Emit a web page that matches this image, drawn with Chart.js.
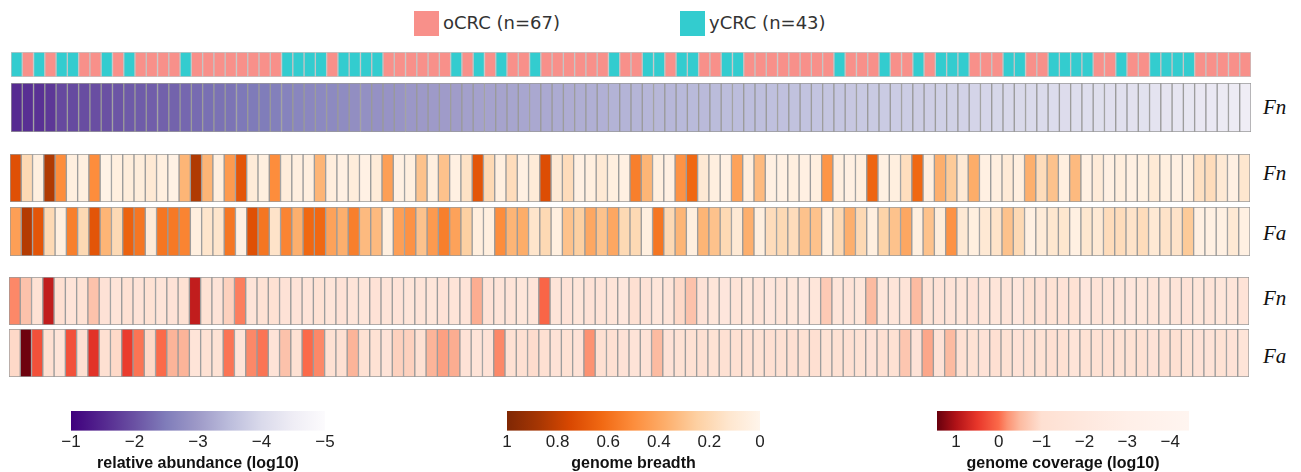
<!DOCTYPE html>
<html><head><meta charset="utf-8">
<script src="https://cdn.jsdelivr.net/npm/chart.js@4.4.0/dist/chart.umd.min.js"></script>
<style>
html,body{margin:0;padding:0;background:#fff;overflow:hidden;}
#wrap{position:relative;width:1301px;height:472px;overflow:hidden;}
canvas{position:absolute;display:block;}
.lab{position:absolute;font-family:"Liberation Serif",serif;font-style:italic;font-size:21px;color:#111;line-height:22px;}
.leg{position:absolute;font-family:"DejaVu Sans",sans-serif;font-size:18px;color:#333;line-height:20px;white-space:nowrap;}
.sw{position:absolute;width:25px;height:25px;}
</style></head>
<body><div id="wrap"></div>
<script>
// ---------------- DATA ----------------
const groupNames = ['oCRC (n=67)', 'yCRC (n=43)'];
// group per sample (o = oCRC, y = yCRC), in column order
const group = ['y','o','y','o','y','y','o','o','y','o',
 'y','o','o','o','o','y','o','o','o','o',
 'o','o','o','o','y','y','y','y','o','y',
 'y','y','y','o','o','o','o','o','o','y',
 'o','y','o','y','o','o','y','o','o','o',
 'o','o','o','y','o','o','y','y','o','y',
 'y','o','o','y','y','o','o','o','o','o',
 'o','o','o','y','o','o','o','y','o','o',
 'y','o','y','y','y','o','o','o','y','y',
 'o','o','y','y','y','y','o','o','y','o',
 'o','y','y','y','y','o','o','o','o','o'];
// relative abundance of Fn (log10)
const abundanceFn = [-1.55,-1.6,-1.62,-1.7,
 -1.9,-1.92,-1.95,-1.97,-2.0,-2.05,
 -2.1,-2.12,-2.15,-2.18,-2.2,-2.25,
 -2.3,-2.35,-2.38,-2.4,-2.45,-2.48,-2.5,-2.55,
 -2.6,-2.65,-2.68,-2.7,-2.72,-2.75,
 -2.8,-2.82,-2.85,-2.88,-2.9,-2.95,
 -2.98,-3.0,-3.02,-3.03,
 -3.08,-3.1,-3.12,-3.13,-3.15,-3.17,-3.2,
 -3.22,-3.24,-3.26,-3.28,-3.3,-3.32,
 -3.35,-3.37,-3.38,-3.4,-3.41,-3.42,-3.44,-3.45,-3.46,-3.48,-3.5,-3.5,-3.52,
 -3.54,-3.55,-3.56,-3.58,-3.6,-3.62,-3.63,-3.65,
 -3.68,-3.7,-3.72,-3.74,-3.75,-3.77,-3.78,-3.8,-3.82,-3.84,
 -3.87,-3.9,-3.92,-3.94,-3.96,-3.98,-4.0,-4.02,-4.04,-4.06,-4.08,
 -4.1,-4.12,-4.14,-4.16,-4.18,-4.2,-4.23,-4.26,-4.29,-4.32,-4.35,-4.38,-4.42,-4.46,-4.5];
// genome breadth
const breadthFn = [0.72,0.2,0.05,0.85,0.5,0.05,0.05,0.5,0.02,0.05,
 0.07,0.07,0.1,0.05,0.03,0.35,0.85,0.35,0.05,0.45,
 0.7,0.08,0.05,0.5,0.07,0.05,0.05,0.35,0.06,0.04,
 0.07,0.03,0.08,0.43,0.04,0.05,0.3,0.05,0.3,0.04,
 0.15,0.7,0.2,0.05,0.18,0.04,0.08,0.73,0.1,0.18,
 0.04,0.05,0.1,0.05,0.04,0.55,0.35,0.05,0.04,0.48,
 0.63,0.1,0.05,0.04,0.42,0.06,0.33,0.04,0.04,0.05,
 0.04,0.05,0.47,0.05,0.04,0.05,0.64,0.04,0.05,0.17,
 0.63,0.05,0.37,0.27,0.1,0.38,0.04,0.05,0.09,0.05,
 0.37,0.18,0.3,0.05,0.33,0.04,0.08,0.04,0.06,0.04,
 0.05,0.09,0.05,0.04,0.05,0.16,0.18,0.1,0.04,0.12];
const breadthFa = [0.43,0.84,0.7,0.2,0.05,0.55,0.2,0.7,0.35,0.2,
 0.65,0.58,0.08,0.58,0.57,0.53,0.05,0.13,0.13,0.58,
 0.04,0.72,0.58,0.14,0.53,0.37,0.63,0.63,0.42,0.37,
 0.55,0.33,0.33,0.05,0.43,0.48,0.3,0.45,0.55,0.42,
 0.25,0.06,0.05,0.5,0.35,0.38,0.13,0.2,0.05,0.3,
 0.25,0.4,0.3,0.4,0.2,0.2,0.05,0.58,0.2,0.35,
 0.05,0.35,0.3,0.2,0.1,0.37,0.05,0.18,0.2,0.18,
 0.3,0.3,0.05,0.2,0.37,0.2,0.05,0.23,0.3,0.4,
 0.05,0.3,0.07,0.48,0.1,0.05,0.1,0.14,0.3,0.2,
 0.04,0.08,0.12,0.12,0.04,0.12,0.1,0.18,0.18,0.14,
 0.18,0.1,0.14,0.14,0.27,0.04,0.04,0.04,0.1,0.04];
// genome coverage (log10)
const coverageFn = [-0.15,-0.6,-1.2,0.85,-1.0,-1.5,-1.2,-0.6,-1.3,-1.5,
 -1.1,-1.4,-1.2,-1.5,-1.3,-1.1,0.85,-1.2,-1.4,-0.8,
 -0.1,-1.5,-1.2,-1.1,-1.3,-1.4,-1.5,-1.2,-1.6,-1.3,
 -1.5,-1.6,-1.3,-1.5,-1.4,-1.6,-1.5,-1.6,-1.3,-1.5,
 -1.4,-0.4,-1.3,-1.5,-1.5,-1.7,-1.5,0.05,-1.5,-1.3,
 -1.6,-1.3,-1.4,-1.5,-1.8,-1.0,-1.3,-1.6,-1.5,-0.9,
 -0.6,-1.3,-1.6,-1.8,-1.4,-1.7,-1.4,-1.8,-1.5,-1.7,
 -1.9,-1.7,-0.7,-1.6,-1.4,-1.7,-0.5,-1.7,-1.6,-1.4,
 -0.5,-1.2,-1.3,-1.4,-1.6,-1.3,-1.5,-1.6,-1.4,-1.8,
 -1.2,-1.3,-1.2,-1.3,-1.2,-1.8,-1.4,-1.5,-1.6,-1.8,
 -1.7,-1.5,-1.6,-1.5,-1.3,-1.6,-1.5,-1.7,-1.6,-1.4];
const coverageFa = [-0.9,1.4,0.25,-1.0,-1.5,0.25,-1.0,0.55,-1.0,-0.9,
 0.45,-0.05,-0.9,0.0,-0.45,-0.45,-1.5,-1.1,-1.2,-0.05,
 -1.5,-0.15,-0.05,-1.4,-0.6,-1.1,0.0,-0.15,-1.1,-1.0,
 -0.45,-1.1,-1.2,-1.4,-0.8,-0.8,-1.1,-0.45,-0.3,-0.4,
 -1.3,-1.4,-1.3,-0.15,-1.1,-1.0,-0.95,-1.0,-1.3,-1.1,
 -1.3,-0.2,-1.0,-1.0,-1.3,-1.4,-1.3,-0.5,-1.3,-1.2,
 -1.1,-1.0,-1.2,-1.1,-1.0,-1.1,-1.2,-1.0,-1.1,-1.0,
 -1.1,-1.0,-1.2,-1.1,-1.0,-1.2,-1.3,-1.0,-1.1,-0.65,
 -1.3,-0.35,-1.3,-0.5,-1.1,-1.2,-1.3,-1.0,-1.1,-1.3,
 -1.1,-1.2,-1.0,-1.1,-1.5,-1.2,-1.1,-1.0,-1.2,-1.2,
 -1.1,-1.3,-1.1,-1.0,-1.2,-1.3,-1.4,-1.2,-1.3,-1.5];
const rowNames = ['Fn','Fn','Fa','Fn','Fa'];
const abundanceTicks = [-1,-2,-3,-4,-5];
const breadthTicks = [1,0.8,0.6,0.4,0.2,0];
const coverageTicks = [1,0,-1,-2,-3,-4];
const legendTitles = ['relative abundance (log10)','genome breadth','genome coverage (log10)'];

// ---------------- COLOUR SCALES ----------------
const groupColors = {o:'#F8908A', y:'#33CCCF'};
const purpleStops = [[-5,'#fcfbfd'],[-4.5,'#efedf5'],[-4,'#dadaeb'],[-3.5,'#bcbddc'],[-3,'#9e9ac8'],[-2.5,'#807dba'],[-2,'#6a51a3'],[-1.5,'#54278f'],[-1,'#3f007d']];
const orangeStops = [[0,'#fff5eb'],[0.125,'#fee6ce'],[0.25,'#fdd0a2'],[0.375,'#fdae6b'],[0.5,'#fd8d3c'],[0.625,'#f16913'],[0.75,'#d94801'],[0.875,'#a63603'],[1,'#7f2704']];
const redStops = [[-4.44,'#fff5f0'],[-3,'#ffefe8'],[-2,'#fee8de'],[-1,'#fee0d2'],[-0.5,'#fcbba1'],[-0.2,'#fc9272'],[0,'#fb6a4a'],[0.5,'#e8362a'],[1,'#b01217'],[1.44,'#67000d']];

function hex2rgb(h){return [parseInt(h.slice(1,3),16),parseInt(h.slice(3,5),16),parseInt(h.slice(5,7),16)];}
function scaleColor(stops, v){
  if (v <= stops[0][0]) return stops[0][1];
  if (v >= stops[stops.length-1][0]) return stops[stops.length-1][1];
  for (let i=0;i<stops.length-1;i++){
    const [v0,c0]=stops[i],[v1,c1]=stops[i+1];
    if (v>=v0 && v<=v1){
      const t=(v-v0)/(v1-v0), a=hex2rgb(c0), b=hex2rgb(c1);
      return 'rgb('+a.map((x,k)=>Math.round(x+(b[k]-x)*t)).join(',')+')';
    }
  }
}

// ---------------- LAYOUT ----------------
const wrap = document.getElementById('wrap');
const samples = group.map((g,i)=>'S'+(i+1));

function addCanvas(left, top, w, h){
  const c = document.createElement('canvas');
  c.width = w; c.height = h;
  c.style.left = left+'px'; c.style.top = top+'px';
  c.style.width = w+'px'; c.style.height = h+'px';
  wrap.appendChild(c);
  return c;
}

function heatRow(left, top, w, h, colors, border){
  const c = addCanvas(left, top, w, h);
  new Chart(c, {
    type:'bar',
    data:{labels:samples, datasets:[{data:samples.map(()=>1), backgroundColor:colors,
      borderColor:border, borderWidth:1, borderSkipped:false, barPercentage:1, categoryPercentage:1}]},
    options:{responsive:false, animation:false, devicePixelRatio:1, events:[],
      layout:{padding:0},
      plugins:{legend:{display:false}, tooltip:{enabled:false}},
      scales:{x:{display:false}, y:{display:false, min:0, max:1}}}
  });
}

heatRow(11, 52, 1240, 25, group.map(g=>groupColors[g]), '#c4c4c4');
heatRow(11, 83, 1240, 49, abundanceFn.map(v=>scaleColor(purpleStops,v)), '#9a9a9a');
heatRow(10, 154, 1240, 48, breadthFn.map(v=>scaleColor(orangeStops,v)), '#9a9a9a');
heatRow(10, 207, 1240, 49, breadthFa.map(v=>scaleColor(orangeStops,v)), '#9a9a9a');
heatRow(9, 277, 1240, 48, coverageFn.map(v=>scaleColor(redStops,v)), '#9a9a9a');
heatRow(9, 329, 1240, 48, coverageFa.map(v=>scaleColor(redStops,v)), '#9a9a9a');

// row labels
[[96,0],[162,1],[222,2],[287,3],[345,4]].forEach(([t,i])=>{
  const d=document.createElement('div'); d.className='lab';
  d.style.left='1263px'; d.style.top=t+'px'; d.textContent=rowNames[i]; wrap.appendChild(d);
});

// top legend
[[414,'o',0],[680,'y',1]].forEach(([x,g,i])=>{
  const s=document.createElement('div'); s.className='sw';
  s.style.left=x+'px'; s.style.top='11px'; s.style.background=groupColors[g]; wrap.appendChild(s);
  const t=document.createElement('div'); t.className='leg';
  t.style.left=(x+29)+'px'; t.style.top='13px'; t.textContent=groupNames[i]; wrap.appendChild(t);
});

// colour bar legends
function fmt(v){ return String(v).replace('-','\u2212'); }
function colorbar(barLeft, barRight, top, min, max, ticks, stops, title){
  const pad = 24;
  const c = addCanvas(barLeft-pad, top, barRight-barLeft+2*pad, 61);
  new Chart(c, {
    type:'scatter',
    data:{datasets:[]},
    options:{responsive:false, animation:false, devicePixelRatio:1, events:[],
      layout:{padding:{left:pad,right:pad,top:0,bottom:0}},
      plugins:{legend:{display:false}, tooltip:{enabled:false},
        title:{display:true, position:'bottom', text:title, color:'#111', padding:{top:1,bottom:0},
          font:{family:'Liberation Sans', size:16, weight:'bold', lineHeight:1.0}}},
      scales:{
        x:{type:'linear', min:min, max:max, reverse:true,
          afterBuildTicks:(s)=>{ s.ticks = ticks.map(v=>({value:v})); },
          grid:{display:false, drawTicks:false}, border:{display:false},
          ticks:{padding:2, color:'#222', autoSkip:false, maxRotation:0,
            font:{family:'Liberation Sans', size:17}, callback:(v)=>fmt(v)}},
        y:{display:false, min:0, max:1}
      }},
    plugins:[{id:'grad', beforeDatasetsDraw(chart){
      const {ctx, chartArea:a, scales:{x}} = chart;
      const g = ctx.createLinearGradient(a.left,0,a.right,0);
      stops.map(([v,col])=>[(x.getPixelForValue(v)-a.left)/(a.right-a.left),col])
        .sort((p,q)=>p[0]-q[0])
        .forEach(([p,col])=>g.addColorStop(Math.min(1,Math.max(0,p)),col));
      ctx.fillStyle=g; ctx.fillRect(a.left,a.top,a.right-a.left,a.bottom-a.top);
    }}]
  });
}
colorbar(71, 325, 411, -5, -1, abundanceTicks, purpleStops, legendTitles[0]);
colorbar(507, 760, 411, 0, 1, breadthTicks, orangeStops, legendTitles[1]);
colorbar(937, 1189, 411, -4.44, 1.44, coverageTicks, redStops, legendTitles[2]);
</script>
</body></html>
